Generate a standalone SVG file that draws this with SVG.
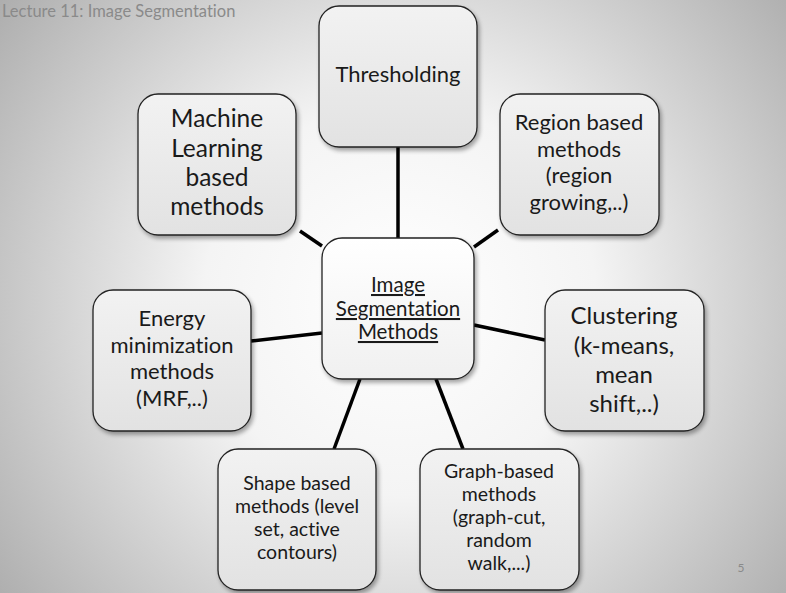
<svg xmlns="http://www.w3.org/2000/svg" width="786" height="593" viewBox="0 0 786 593">
<defs>
<radialGradient id="bg" cx="400" cy="300" r="560" gradientUnits="userSpaceOnUse">
<stop offset="0" stop-color="#ffffff"/>
<stop offset="0.35" stop-color="#f4f4f4"/>
<stop offset="1" stop-color="#a0a0a0"/>
</radialGradient>
<linearGradient id="box" x1="0" y1="0" x2="0" y2="1">
<stop offset="0" stop-color="#f2f2f2"/>
<stop offset="1" stop-color="#e2e2e2"/>
</linearGradient>
<linearGradient id="cbox" x1="0" y1="0" x2="0" y2="1">
<stop offset="0" stop-color="#ffffff"/>
<stop offset="1" stop-color="#f0f0f0"/>
</linearGradient>
<filter id="sh" x="-10%" y="-10%" width="130%" height="130%">
<feGaussianBlur in="SourceAlpha" stdDeviation="2"/>
<feOffset dx="2" dy="3"/>
<feComponentTransfer><feFuncA type="linear" slope="0.35"/></feComponentTransfer>
<feMerge><feMergeNode/><feMergeNode in="SourceGraphic"/></feMerge>
</filter>
</defs>
<style>
.box{fill:url(#box);stroke:#222;stroke-width:1.3;filter:url(#sh)}
.cbox{fill:url(#cbox);stroke:#222;stroke-width:1.3;filter:url(#sh)}
text{font-family:Lato,"Open Sans","Liberation Sans",sans-serif;fill:#1a1a1a;text-anchor:middle;font-variant-ligatures:none;font-weight:400}
.conn line{stroke:#000;stroke-width:3.5}
</style>
<rect width="786" height="593" fill="url(#bg)"/>
<text x="2" y="17" style="text-anchor:start;fill:#8a8a8a;font-size:16.5px">Lecture 11: Image Segmentation</text>
<text x="741" y="572" style="fill:#8a8a8a;font-size:12px">5</text>
<g class="conn">
<line x1="398" y1="147" x2="398" y2="238"/>
<line x1="300" y1="231" x2="322" y2="246"/>
<line x1="474" y1="247" x2="498" y2="230"/>
<line x1="251" y1="341" x2="322" y2="333"/>
<line x1="474" y1="325" x2="545" y2="340"/>
<line x1="360" y1="379" x2="334" y2="449"/>
<line x1="436" y1="379" x2="463" y2="449"/>
</g>
<g id="thresholding">
<rect class="box" x="319" y="6" width="158" height="141" rx="20"/>
<text x="398" y="82" font-size="22">Thresholding</text>
</g>
<g id="machine-learning">
<rect class="box" x="138" y="94" width="158" height="141" rx="20"/>
<text font-size="24.5"><tspan x="217" y="127">Machine</tspan><tspan x="217" y="157">Learning</tspan><tspan x="217" y="186">based</tspan><tspan x="217" y="215">methods</tspan></text>
</g>
<g id="region-based">
<rect class="box" x="500" y="94" width="159" height="141" rx="20"/>
<text font-size="22"><tspan x="579" y="130">Region based</tspan><tspan x="579" y="157">methods</tspan><tspan x="579" y="183">(region</tspan><tspan x="579" y="210">growing,..)</tspan></text>
</g>
<g id="center">
<rect class="cbox" x="322" y="238" width="152" height="141" rx="20"/>
<text font-size="20.5" text-decoration="underline"><tspan x="398" y="292">Image</tspan><tspan x="398" y="316">Segmentation</tspan><tspan x="398" y="339">Methods</tspan></text>
</g>
<g id="energy">
<rect class="box" x="93" y="290" width="158" height="141" rx="20"/>
<text font-size="22"><tspan x="172" y="326">Energy</tspan><tspan x="172" y="353">minimization</tspan><tspan x="172" y="379">methods</tspan><tspan x="172" y="406">(MRF,..)</tspan></text>
</g>
<g id="clustering">
<rect class="box" x="545" y="290" width="159" height="141" rx="20"/>
<text font-size="24"><tspan x="624" y="324">Clustering</tspan><tspan x="624" y="354">(k-means,</tspan><tspan x="624" y="383">mean</tspan><tspan x="624" y="412">shift,..)</tspan></text>
</g>
<g id="shape-based">
<rect class="box" x="218" y="449" width="158" height="141" rx="20"/>
<text font-size="19.5"><tspan x="297" y="490">Shape based</tspan><tspan x="297" y="513">methods (level</tspan><tspan x="297" y="536">set, active</tspan><tspan x="297" y="559">contours)</tspan></text>
</g>
<g id="graph-based">
<rect class="box" x="420" y="449" width="159" height="141" rx="20"/>
<text font-size="19.5"><tspan x="499" y="478">Graph-based</tspan><tspan x="499" y="501">methods</tspan><tspan x="499" y="524">(graph-cut,</tspan><tspan x="499" y="547">random</tspan><tspan x="499" y="570">walk,...)</tspan></text>
</g>
</svg>
